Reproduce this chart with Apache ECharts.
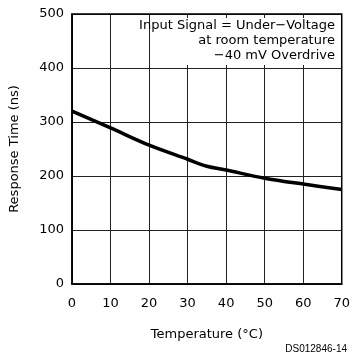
<!DOCTYPE html>
<html>
<head>
<meta charset="utf-8">
<script src="https://cdn.jsdelivr.net/npm/echarts@6/dist/echarts.min.js"></script>
<style>html,body{margin:0;padding:0;background:#fff}#c{width:353px;height:358px}</style>
</head>
<body>
<div id="c"></div>
<script>
var temperatures = [0, 10, 20, 30, 35, 40, 50, 60, 70];
var responseTimes = [320, 289, 257, 231, 218, 211, 196, 185, 175];
var xTicks = [0, 10, 20, 30, 40, 50, 60, 70];
var yTicks = [0, 100, 200, 300, 400, 500];
var noteLines = ['Input Signal = Under\u2212Voltage', 'at room temperature', '\u221240 mV Overdrive'];

var chart = echarts.init(document.getElementById('c'), null, {renderer: 'canvas'});
var font = 'DejaVu Sans';
chart.setOption({
  animation: false,
  backgroundColor: '#fff',
  grid: {left: 72, top: 14, right: 11, bottom: 74, show: true, borderColor: '#000', borderWidth: 1.5, z: 3},
  xAxis: {
    type: 'value', min: xTicks[0], max: xTicks[xTicks.length - 1], interval: 10,
    name: 'Temperature (\u00B0C)', nameLocation: 'middle', nameGap: 44,
    nameTextStyle: {fontFamily: font, fontSize: 13, color: '#000'},
    axisLine: {show: true, lineStyle: {color: '#000', width: 1.5}},
    axisTick: {show: false},
    axisLabel: {fontFamily: font, fontSize: 13, color: '#000', margin: 13},
    splitLine: {show: true, lineStyle: {color: '#222', width: 1}}
  },
  yAxis: {
    type: 'value', min: yTicks[0], max: yTicks[yTicks.length - 1], interval: 100,
    name: 'Response Time (ns)', nameLocation: 'middle', nameGap: 51,
    nameTextStyle: {fontFamily: font, fontSize: 13, color: '#000'},
    axisLine: {show: true, lineStyle: {color: '#000', width: 1.5}},
    axisTick: {show: false},
    axisLabel: {fontFamily: font, fontSize: 13, color: '#000', margin: 8},
    splitLine: {show: true, lineStyle: {color: '#222', width: 1}}
  },
  series: [{
    type: 'line',
    data: temperatures.map(function (t, i) { return [t, responseTimes[i]]; }),
    showSymbol: false,
    smooth: 0.3,
    lineStyle: {color: '#000', width: 3.5},
    z: 5
  }],
  graphic: [
    {type: 'rect', shape: {x: 158, y: 18, width: 182, height: 47}, style: {fill: '#fff'}, z: 4},
    {type: 'text', right: 18, top: 19, style: {text: noteLines[0], font: '13px "' + font + '"', fill: '#000', textAlign: 'right'}, z: 6},
    {type: 'text', right: 18, top: 34, style: {text: noteLines[1], font: '13px "' + font + '"', fill: '#000', textAlign: 'right'}, z: 6},
    {type: 'text', right: 18, top: 49, style: {text: noteLines[2], font: '13px "' + font + '"', fill: '#000', textAlign: 'right'}, z: 6},
    {type: 'text', right: 6, top: 344, style: {text: 'DS012846-14', font: '10px "Liberation Sans"', fill: '#000'}, z: 6}
  ]
});
</script>
</body>
</html>
